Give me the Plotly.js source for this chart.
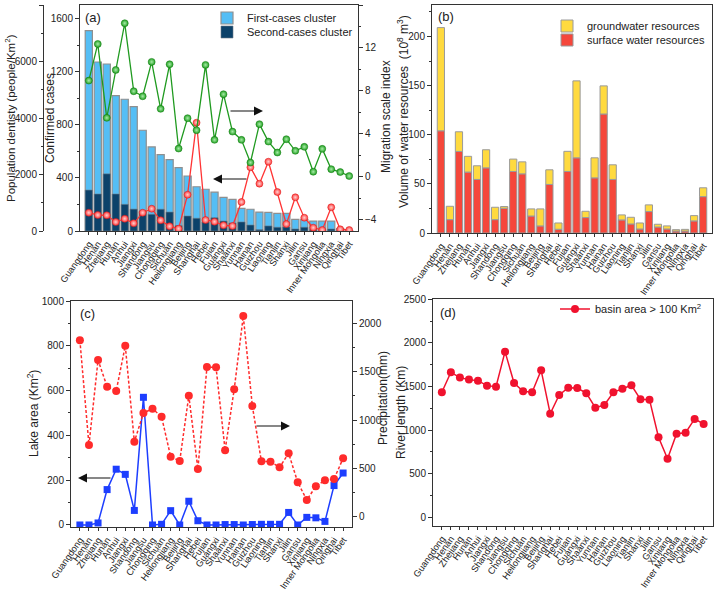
<!DOCTYPE html>
<html><head><meta charset="utf-8">
<script src="https://cdn.plot.ly/plotly-3.0.1.min.js"></script>
<style>html,body{margin:0;padding:0;background:#fff}#chart{width:715px;height:591px}</style>
</head><body><div id="chart"></div>
<script>
const provinces = ["Guangdong","Henan","Zhejiang","Hunan","Anhui","Jiangxi","Shandong","Jiangsu","Chongqing","Sichuan","Heilongjiang","Beijing","Shanghai","Hebei","Fujian","Guangxi","Shaanxi","Yunnan","Hainan","Guizhou","Liaoning","Tianjin","Shanxi","Jilin","Gansu","Xinjiang","Inner Mongolia","Ningxia","Qinghai","Tibet"];

// (a)
const firstCases  = [1512,1275,1260,1021,994,938,760,634,576,538,478,415,334,315,293,254,239,171,164,143,141,133,133,88,88,75,75,75,18,1];
const secondCases = [309,279,431,279,201,165,150,126,164,143,40,113,96,68,100,75,60,68,45,10,38,28,30,15,28,10,10,15,2,0];
const popDensity  = [648,566,556,319,435,272,648,789,379,166,81,1285,3834,389,329,202,177,1027,2254,1675,2453,1380,248,1193,471,117,35,839,60,35];
const migration   = [8.96,12.37,5.49,9.95,14.3,7.97,7.5,10.7,6.33,10.48,2.63,5.46,4.34,10.42,3.44,7.69,4.21,3.44,1.33,4.9,3.28,2.26,3.5,2.42,2.79,0.47,2.6,0.71,0.44,0.07];

// (b)
const surfaceWater = [104,13.6,83,62,54.5,66.3,13.6,25.2,62.6,60.2,17.3,7.2,49.4,3.8,62.6,76.5,15.7,56.1,121.1,54.5,13.3,9.2,4.1,21.8,6.1,4.1,2,2,12.3,37];
const groundWater  = [105,13.6,20,16,13.9,18.4,12.6,1.7,12.6,12.2,7.2,17.3,14.9,6.4,20.5,78.3,6.4,20.4,28.6,14.9,5.1,6.8,6.1,6.8,2.8,3.1,1.4,1.7,5.4,9];

// (c)
const lakeArea      = [0,0,9,158,249,226,65,570,0,3,64,0,106,19,0,0,2,2,0,2,3,3,3,56,0,34,32,16,176,232];
const precipitation = [1826,742,1622,1346,1301,1770,776,1073,1118,1035,621,576,1252,494,1549,1546,687,1318,2077,1146,573,569,511,656,356,173,315,377,390,604];

// (d)
const riverLength = [1434,1663,1602,1579,1567,1510,1498,1900,1540,1445,1435,1686,1188,1403,1487,1483,1424,1257,1288,1434,1475,1514,1353,1349,918,672,959,970,1128,1070];

const W = 715, H = 591;
const px = v => v / W;
const py = v => 1 - v / H;
const FONT = 'Liberation Sans, Arial, sans-serif';

const axisBase = {showline:true, linecolor:'#333', linewidth:1, ticks:'outside', ticklen:4, tickwidth:1,
  tickcolor:'#333', tickfont:{size:10, color:'#222', family:FONT}, zeroline:false, showgrid:false,
  automargin:false, fixedrange:true};
const xBase = (dom, anchor) => Object.assign({}, axisBase, {type:'category', range:[-0.98, 29.98], tickangle:-55,
  tickmode:'array', tickvals:provinces, ticktext:provinces, tickfont:{size:9.2, color:'#222', family:FONT},
  mirror:true, domain:dom, anchor:anchor, ticklen:3});
const yBase = (extra) => Object.assign({}, axisBase, extra);

const traces = [
  {type:'bar', x:provinces, y:firstCases, xaxis:'x', yaxis:'y', width:0.8, name:'First-cases cluster',
   marker:{color:'#55BEF5', line:{color:'#8f8f8f', width:1.2}}, legend:'legend'},
  {type:'bar', x:provinces, y:secondCases, xaxis:'x', yaxis:'y', width:0.8, name:'Second-cases cluster',
   marker:{color:'#0C426A', line:{color:'#6d7a86', width:0.6}}, legend:'legend2'},
  {type:'scatter', mode:'lines+markers', x:provinces, y:popDensity, xaxis:'x', yaxis:'y2', showlegend:false,
   line:{color:'#FF3434', width:1.3}, marker:{size:7, color:'#FF3B3B', gradient:{type:'radial', color:'#ffd2d2'}, line:{color:'#d81818', width:0.5}}},
  {type:'scatter', mode:'lines+markers', x:provinces, y:migration, xaxis:'x', yaxis:'y3', showlegend:false,
   line:{color:'#1F9A1F', width:1.3}, marker:{size:7, color:'#21A021', gradient:{type:'radial', color:'#a8eca8'}, line:{color:'#137a13', width:0.5}}},

  {type:'bar', x:provinces, y:surfaceWater, xaxis:'x2', yaxis:'y4', width:0.8, name:'surface water resources',
   marker:{color:'#F5473B', line:{color:'#9a9a9a', width:1}}, legend:'legend4'},
  {type:'bar', x:provinces, y:groundWater, base:surfaceWater, xaxis:'x2', yaxis:'y4', width:0.8, name:'groundwater resources',
   marker:{color:'#FFDA3F', line:{color:'#9a9a9a', width:1}}, legend:'legend3'},

  {type:'scatter', mode:'lines+markers', x:provinces, y:lakeArea, xaxis:'x3', yaxis:'y5', showlegend:false,
   line:{color:'#1D3EFF', width:1.5}, marker:{symbol:'square', size:7, color:'#1D3EFF'}},
  {type:'scatter', mode:'lines+markers', x:provinces, y:precipitation, xaxis:'x3', yaxis:'y6', showlegend:false,
   line:{color:'#FF2B2B', width:1.5, dash:'3px,2px'}, marker:{size:8, color:'#FF2B2B'}},

  {type:'scatter', mode:'lines+markers', x:provinces, y:riverLength, xaxis:'x4', yaxis:'y7', name:'basin area &gt; 100 Km<sup>2</sup>',
   line:{color:'#F0122E', width:1.5}, marker:{size:8, color:'#F0122E'}, legend:'legend5'}
];

const legBase = (x, y, size) => ({x:px(x), y:py(y), xanchor:'left', yanchor:'middle', bgcolor:'rgba(0,0,0,0)',
  borderwidth:0, font:{size:size, color:'#222', family:FONT}});

const ann = [];
function title(text, x, y, size) {
  ann.push({text:text, x:px(x), y:py(y), xref:'paper', yref:'paper', showarrow:false, textangle:-90,
    xanchor:'center', yanchor:'middle', font:{size:size || 12, color:'#222', family:FONT}});
}
function label(text, x, y) {
  ann.push({text:text, x:px(x), y:py(y), xref:'paper', yref:'paper', showarrow:false,
    xanchor:'left', yanchor:'middle', font:{size:13, color:'#222', family:FONT}});
}
function arrow(hx, hy, ax) {
  ann.push({text:'', x:px(hx), y:py(hy), xref:'paper', yref:'paper', showarrow:true, ax:ax, ay:0,
    arrowhead:2, arrowsize:1.5, arrowwidth:1.2, arrowcolor:'#111'});
}
title('Population dentisty (people/Km<sup>2</sup>)', 10, 118, 11.5);
title('Confirmed cases', 50, 118);
title('Migration scale index', 386, 116);
title('Volume of water resources  (10<sup>8</sup> m<sup>3</sup>)', 403, 112);
title('Lake area (Km<sup>2</sup>)', 33, 414);
title('Precipitation(mm)', 383, 398);
title('River length (Km)', 401, 413);
label('(a)', 83, 17);
label('(b)', 436, 16);
label('(c)', 78, 313);
label('(d)', 438, 312);
arrow(263, 111, -34);
arrow(213, 179, 35);
arrow(78, 478, 34);
arrow(290, 426, -35);

const layout = {
  width:W, height:H, margin:{l:0, r:0, t:0, b:0}, paper_bgcolor:'#fff', plot_bgcolor:'rgba(0,0,0,0)',
  font:{family:FONT, color:'#222'}, barmode:'overlay', bargap:0.2,
  xaxis: xBase([px(80), px(358)], 'y'),
  yaxis: yBase({domain:[py(231), py(5)], anchor:'x', range:[0, 1705], dtick:400,
    minor:{ticks:'outside', ticklen:2, dtick:200, tickcolor:'#333'}}),
  yaxis2: yBase({overlaying:'y', anchor:'free', position:px(43), side:'left', range:[0, 8000], dtick:2000,
    minor:{ticks:'outside', ticklen:2, dtick:1000, tickcolor:'#333'}}),
  yaxis3: yBase({overlaying:'y', anchor:'x', side:'right', range:[-5.05, 16], dtick:4,
    minor:{ticks:'outside', ticklen:2, dtick:2, tickcolor:'#333'}}),

  xaxis2: xBase([px(432), px(712)], 'y4'),
  yaxis4: yBase({domain:[py(233), py(5)], anchor:'x2', range:[0, 232], dtick:50, mirror:true,
    minor:{ticks:'outside', ticklen:2, dtick:25, tickcolor:'#333'}}),

  xaxis3: xBase([px(71), px(352)], 'y5'),
  yaxis5: yBase({domain:[py(527), py(301)], anchor:'x3', range:[-9, 1000], dtick:200,
    minor:{ticks:'outside', ticklen:2, dtick:100, tickcolor:'#333'}}),
  yaxis6: yBase({overlaying:'y5', anchor:'x3', side:'right', range:[-107, 2233], dtick:500,
    minor:{ticks:'outside', ticklen:2, dtick:250, tickcolor:'#333'}}),

  xaxis4: xBase([px(433), px(712.5)], 'y7'),
  yaxis7: yBase({domain:[py(525.7), py(299.3)], anchor:'x4', range:[-96, 2500], dtick:500, mirror:true,
    minor:{ticks:'outside', ticklen:2, dtick:250, tickcolor:'#333'}}),

  legend: legBase(207, 18, 11),
  legend2: legBase(207, 32, 11),
  legend3: legBase(547, 26, 11),
  legend4: legBase(547, 40, 11),
  legend5: legBase(555, 309, 11),
  annotations: ann
};

Plotly.newPlot('chart', traces, layout, {displayModeBar:false, staticPlot:true});
</script>
</body></html>
